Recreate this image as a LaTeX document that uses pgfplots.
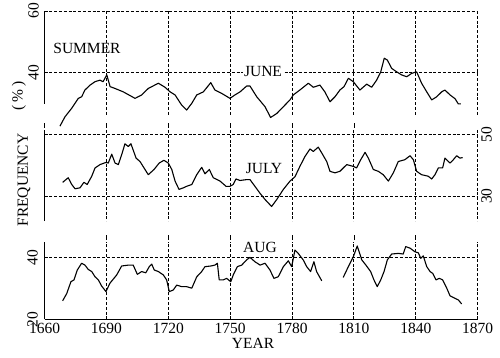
\documentclass[border=0pt]{standalone}
\usepackage{pgfplots}
\pgfplotsset{compat=1.18}
\usepackage{fontspec}
\setmainfont{Liberation Serif}
\tikzset{
  curve/.style={black, line width=1.1pt, line join=round},
  gl/.style={black, line width=0.9pt, dash pattern=on 3pt off 1.8pt},
  ax/.style={black, line width=1.2pt},
}
\begin{document}
\begin{tikzpicture}[x=1pt,y=1pt]
\useasboundingbox (0,0) rectangle (500,357);
\pgfplotsset{
  every axis/.append style={scale only axis, width=433.2pt, xmin=1660, xmax=1870, clip=false,
    axis line style={draw=none}, major tick length=0pt,
    tick label style={font=\fontsize{15.5}{15.5}\selectfont},
    /pgf/number format/assume math mode=true, /pgf/number format/1000 sep={}},
}
% ---------------- JUNE ----------------
\begin{axis}[at={(44.5pt,253.4pt)}, anchor=south west, height=92.6pt,
  ymin=30, ymax=60, axis lines*=left, xtick=\empty, ytick={40,60},
  yticklabel style={rotate=90, anchor=south, inner xsep=0pt, inner ysep=5.5pt}]
\draw[ax] (1660,30) -- (1660,60);
\draw[gl] (1660,60) -- (1870,60);
\draw[gl] (1660,40) -- (1870,40);
\pgfplotsinvokeforeach{1690,1720,1750,1780,1810,1840,1870}{\draw[gl] (#1,60) -- (#1,26.3);}
\addplot[curve, no marks] coordinates {
(1667.5,22.7)(1669.9,25.7)(1673.2,28.5)(1676.4,31.7)(1678.0,32.2)(1679.6,34.4)(1682.1,36.0)
(1684.5,37.1)(1686.9,37.6)(1688.4,37.1)(1690.2,39.3)(1691.8,35.5)(1694.2,34.9)(1698.2,33.8)
(1703.9,31.7)(1707.1,32.8)(1710.3,34.9)(1715.2,36.6)(1718.4,35.3)(1720.9,33.8)(1723.3,32.8)
(1726.5,29.5)(1728.9,27.9)(1731.4,30.1)(1733.8,32.8)(1737.0,33.8)(1740.6,36.8)(1742.6,34.4)
(1745.9,33.3)(1749.9,31.7)(1752.3,32.8)(1754.8,33.8)(1758.0,35.7)(1759.6,35.7)(1762.9,32.2)
(1766.9,29.0)(1769.6,25.5)(1772.6,26.8)(1775.8,29.0)(1779.0,31.2)(1780.6,32.8)(1783.8,34.4)
(1787.9,36.6)(1790.3,35.3)(1793.5,36.0)(1795.9,33.8)(1798.4,30.6)(1800.8,32.2)(1803.2,34.4)
(1805.2,35.5)(1807.3,38.2)(1809.7,37.1)(1812.9,34.4)(1816.2,36.3)(1818.6,35.3)(1821.0,37.6)
(1823.0,40.3)(1824.7,44.7)(1826.2,44.1)(1828.3,41.4)(1830.7,40.3)(1833.1,39.3)(1835.6,38.7)
(1838.0,39.8)(1840.4,40.3)(1842.8,36.6)(1845.3,33.8)(1847.7,31.2)(1850.1,32.2)(1852.5,33.8)
(1854.1,34.4)(1856.6,32.8)(1859.0,31.6)(1860.6,29.9)(1861.9,29.9)};
\end{axis}
% ---------------- JULY ----------------
\begin{axis}[at={(44.5pt,135.8pt)}, anchor=south west, height=91.2pt,
  ymin=21.8, ymax=51.6, axis x line*=bottom, axis y line*=right, xtick=\empty, ytick={30,50},
  yticklabel style={rotate=90, anchor=north}]
\draw[ax] (1660,21.8) -- (1660,51.6);
\draw[gl] (1660,50) -- (1870,50);
\draw[gl] (1660,30) -- (1870,30);
\pgfplotsinvokeforeach{1690,1720,1750,1780,1810,1840,1870}{\draw[gl] (#1,51.6) -- (#1,21.8);}
\pgfplotsinvokeforeach{1660,1690,1720,1750,1780,1810}{\draw[black, line width=0.8pt] (#1,52.3) -- (#1,53.9);}
\addplot[curve, no marks] coordinates {
(1668.8,34.5)(1671.5,36.0)(1673.2,33.8)(1674.8,32.4)(1677.2,32.7)(1679.1,34.5)(1680.7,33.8)
(1682.9,36.5)(1684.5,39.2)(1686.9,40.3)(1689.8,41.0)(1690.9,40.8)(1692.6,43.7)(1694.2,40.8)
(1695.8,40.3)(1697.4,43.5)(1699.0,47.1)(1700.6,46.2)(1701.9,47.1)(1704.4,42.4)(1706.3,41.3)
(1710.3,37.0)(1713.1,38.7)(1715.6,40.8)(1717.9,41.7)(1720.0,40.8)(1721.7,38.7)(1723.3,34.9)
(1725.2,32.2)(1727.3,32.7)(1728.9,33.2)(1731.4,33.8)(1733.8,37.0)(1736.2,39.4)(1737.8,37.3)
(1739.9,38.7)(1741.8,36.0)(1745.1,34.9)(1748.0,33.2)(1749.9,33.2)(1751.5,33.8)(1752.8,35.6)
(1754.8,35.1)(1758.0,35.4)(1759.6,35.4)(1762.0,33.2)(1764.5,30.9)(1766.9,28.9)(1770.1,26.6)
(1772.6,28.9)(1775.8,32.2)(1779.0,34.9)(1781.4,36.3)(1783.8,39.7)(1786.3,43.0)(1788.7,45.4)
(1790.3,44.6)(1792.7,46.0)(1794.4,44.1)(1796.8,41.3)(1798.4,38.1)(1800.8,37.6)(1803.2,38.1)
(1806.5,40.3)(1809.7,39.7)(1811.3,39.2)(1813.3,41.9)(1815.4,44.3)(1817.0,42.4)(1819.4,38.7)
(1821.8,38.1)(1824.2,37.0)(1826.7,34.9)(1829.1,37.6)(1831.5,41.3)(1834.7,41.9)(1837.2,43.2)
(1838.8,41.9)(1840.4,38.1)(1842.8,37.0)(1846.0,36.5)(1847.7,35.6)(1849.3,37.0)(1850.9,39.2)
(1853.0,39.2)(1854.1,42.4)(1856.6,40.8)(1858.2,41.9)(1859.8,43.2)(1861.4,42.4)(1862.7,42.6)};
\end{axis}
% ---------------- AUG ----------------
\begin{axis}[at={(44.5pt,37.7pt)}, anchor=south west, height=77pt,
  ymin=20, ymax=45, axis lines*=left, xtick={1660,1690,1720,1750,1780,1810,1840,1870}, ytick={20,40},
  yticklabel style={rotate=90, anchor=south, inner xsep=0pt, inner ysep=6.5pt}]
\draw[ax] (1660,20) -- (1660,45);
\draw[ax] (1660,20) -- (1870,20);
\draw[gl] (1660,40) -- (1870,40);
\pgfplotsinvokeforeach{1690,1720,1750,1780,1810,1840,1870}{\draw[gl] (#1,20) -- (#1,45);}
\pgfplotsinvokeforeach{1690,1720,1750,1780,1810,1840}{\draw[black, line width=0.8pt] (#1,45.7) -- (#1,47.5);}
\addplot[curve, no marks] coordinates {
(1668.8,26.0)(1670.8,28.4)(1672.8,32.2)(1674.3,32.8)(1675.9,36.0)(1678.0,38.2)(1679.6,37.6)
(1681.2,36.2)(1682.9,35.5)(1684.5,33.8)(1686.1,32.8)(1687.7,30.8)(1689.8,29.0)(1691.7,31.7)
(1695.0,34.4)(1697.4,37.3)(1700.6,37.6)(1703.0,37.6)(1705.0,34.6)(1707.1,35.5)(1709.1,35.1)
(1710.8,37.1)(1712.0,37.9)(1713.2,36.0)(1715.2,35.5)(1717.6,34.4)(1719.2,32.8)(1720.5,29.0)
(1722.4,29.5)(1724.1,31.1)(1726.5,30.6)(1728.9,30.6)(1731.4,30.1)(1733.8,33.8)(1736.2,35.5)
(1737.8,37.1)(1740.6,37.3)(1742.6,37.6)(1743.8,38.2)(1744.7,32.8)(1746.7,32.8)(1748.3,33.3)
(1750.3,32.2)(1751.5,34.4)(1753.5,37.1)(1755.6,37.6)(1758.0,39.3)(1759.6,40.1)(1762.0,38.7)
(1764.5,37.6)(1766.9,38.2)(1769.3,36.0)(1771.2,33.3)(1773.3,33.8)(1775.8,37.1)(1778.2,39.0)
(1779.8,37.1)(1780.3,38.7)(1781.4,42.5)(1783.0,41.4)(1785.4,39.3)(1787.1,37.1)(1789.0,35.5)
(1790.6,38.7)(1791.9,35.5)(1794.4,32.5)};
\addplot[curve, no marks] coordinates {
(1804.8,33.6)(1807.3,37.1)(1809.7,40.3)(1811.6,43.8)(1813.8,39.3)(1815.8,37.6)(1818.1,35.5)
(1819.7,32.8)(1821.3,30.6)(1823.0,32.8)(1824.6,35.5)(1826.2,39.3)(1828.3,41.2)(1831.5,41.4)
(1833.9,41.2)(1835.1,43.6)(1837.2,43.1)(1839.6,41.9)(1841.2,41.6)(1842.4,39.8)(1843.6,40.6)
(1845.3,37.1)(1846.9,35.5)(1848.2,34.9)(1849.8,32.8)(1851.4,33.3)(1853.0,32.8)(1855.0,30.1)
(1856.6,27.6)(1859.0,26.8)(1860.6,26.3)(1862.2,25.0)};
\end{axis}
% ---------------- labels ----------------
\begin{scope}[every node/.style={font=\fontsize{15.5}{16}\selectfont, inner sep=1.5pt}]
\node at (87,309) {SUMMER};
\node[fill=white] at (263,285) {JUNE};
\node at (264,189) {JULY};
\node at (260,110) {AUG};
\node at (253,14) {YEAR};
\node[rotate=90] at (24,177) {FREQUENCY};
\node[rotate=90] at (19,261) {(\,\%\,)};
\end{scope}
\end{tikzpicture}
\end{document}
